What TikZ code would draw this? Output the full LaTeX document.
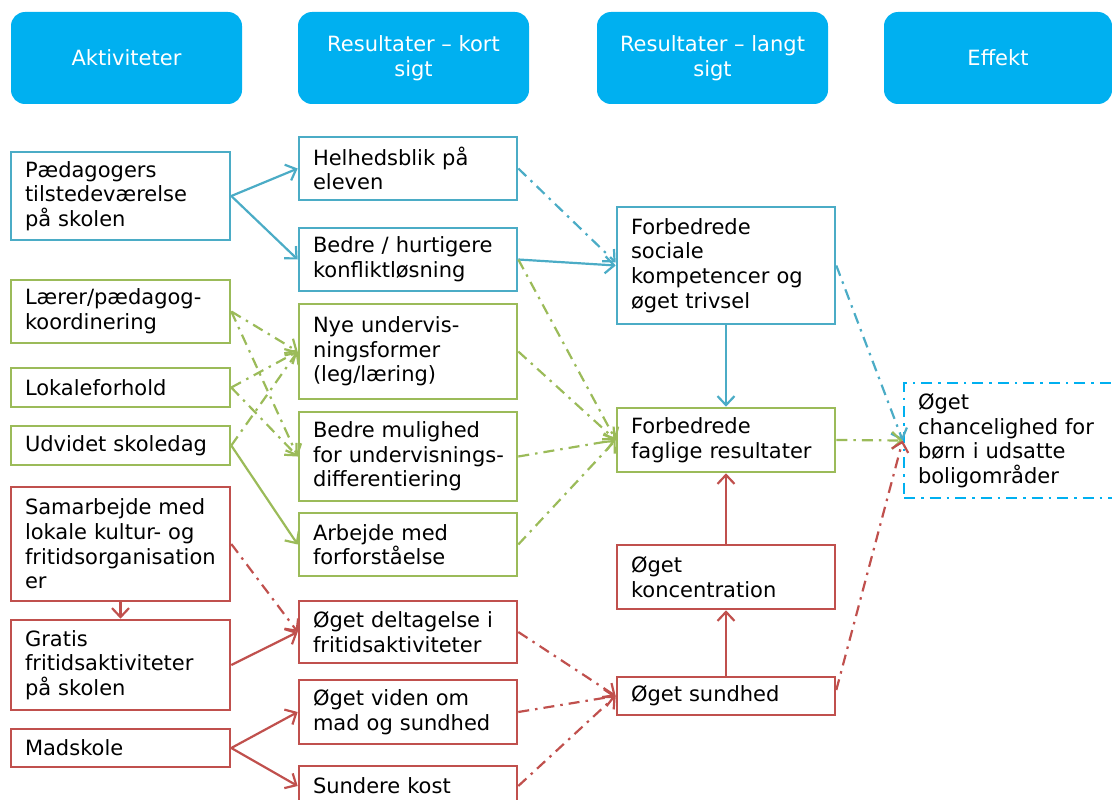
\documentclass[tikz,border=0pt]{standalone}
\usepackage{fontspec}
\setmainfont{DejaVu Sans}
\usetikzlibrary{arrows.meta}
\definecolor{cblue}{HTML}{4BACC6}
\definecolor{cgreen}{HTML}{9BBB59}
\definecolor{cred}{HTML}{C0504D}
\definecolor{chead}{HTML}{00B0F0}
\begin{document}
\begin{tikzpicture}[x=1pt,y=-1pt,
  font=\fontsize{21}{24.6}\selectfont,
  box/.style={draw, line width=2.6pt, inner xsep=14pt, inner ysep=0pt, align=left, fill=white},
  colA/.style={box, text width=191pt, minimum width=219pt},
  colB/.style={box, text width=190pt, minimum width=218pt},
  head/.style={fill=chead, draw=none, rounded corners=14pt, minimum width=231pt, minimum height=92pt, text=white, align=center},
  conn/.style={line width=2.2pt, -{Straight Barb[length=9pt,width=17pt]}},
  dd/.style={dash pattern=on 11pt off 6pt on 2.5pt off 6pt},
]
\useasboundingbox (0,0) rectangle (1112,800);
\clip (0,0) rectangle (1112,800);

% headers
\node[head] (h1) at (126.5,58) {Aktiviteter};
\node[head] (h2) at (413.5,58) {Resultater -- kort\\sigt};
\node[head] (h3) at (712.5,58) {Resultater -- langt\\sigt};
\node[head, minimum width=228pt] (h4) at (998,58) {Effekt};

% column 1
\node[colA, draw=cblue, minimum height=88pt] (ped) at (120.5,196) {Pædagogers\\tilstedeværelse\\på skolen};
\node[colA, draw=cgreen, minimum height=63pt] (laer) at (120.5,311.5) {Lærer/pædagog-\\koordinering};
\node[colA, draw=cgreen, minimum height=39pt] (lok) at (120.5,387.5) {Lokaleforhold};
\node[colA, draw=cgreen, minimum height=39pt] (udv) at (120.5,445.5) {Udvidet skoledag};
\node[colA, draw=cred, minimum height=114pt] (sam) at (120.5,544) {Samarbejde med\\lokale kultur- og\\\mbox{fritidsorganisation}\\er};
\node[colA, draw=cred, minimum height=90pt] (gra) at (120.5,665) {Gratis\\fritidsaktiviteter\\på skolen};
\node[colA, draw=cred, minimum height=38pt] (mad) at (120.5,748) {Madskole};

% column 2
\node[colB, draw=cblue, minimum height=63pt] (hel) at (408,168.5) {Helhedsblik på\\eleven};
\node[colB, draw=cblue, minimum height=63pt] (bed) at (408,259.5) {Bedre / hurtigere\\konfliktløsning};
\node[colB, draw=cgreen, minimum height=95pt] (nye) at (408,351.5) {Nye undervis-\\ningsformer\\(leg/læring)};
\node[colB, draw=cgreen, minimum height=89pt] (mul) at (408,456.5) {Bedre mulighed\\\mbox{for undervisnings-}\\differentiering};
\node[colB, draw=cgreen, minimum height=63pt] (arb) at (408,544.5) {Arbejde med\\forforståelse};
\node[colB, draw=cred, minimum height=62pt] (del) at (408,632) {Øget deltagelse i\\fritidsaktiviteter};
\node[colB, draw=cred, minimum height=64pt] (vid) at (408,712) {Øget viden om\\mad og sundhed};
\node[colB, draw=cred, minimum height=40pt] (kost) at (408,786) {Sundere kost};

% column 3
\node[colB, draw=cblue, minimum height=117pt] (soc) at (726,265.5) {Forbedrede\\sociale\\kompetencer og\\øget trivsel};
\node[colB, draw=cgreen, minimum height=64pt] (fag) at (726,440) {Forbedrede\\faglige resultater};
\node[colB, draw=cred, minimum height=64pt] (kon) at (726,577) {Øget\\koncentration};
\node[colB, draw=cred, minimum height=38pt] (sun) at (726,696) {Øget sundhed};

% effect
\node[box, draw=chead, dd, text width=260pt, minimum width=288pt, minimum height=115pt] (eff) at (1048,440.5) {Øget\\chancelighed for\\børn i udsatte\\boligområder};

% blue connectors
\draw[conn, cblue] (ped.east) -- (hel.west);
\draw[conn, cblue] (ped.east) -- (bed.west);
\draw[conn, cblue] (bed.east) -- (soc.west);
\draw[conn, cblue, dd] (hel.east) -- ([yshift=3pt]soc.west);
\draw[conn, cblue] (soc.south) -- (fag.north);
\draw[conn, cblue, dd] (soc.east) -- (eff.west);

% green connectors
\draw[conn, cgreen, dd] (laer.east) -- (nye.west);
\draw[conn, cgreen, dd] (laer.east) -- (mul.west);
\draw[conn, cgreen, dd] (lok.east) -- (nye.west);
\draw[conn, cgreen, dd] (lok.east) -- (mul.west);
\draw[conn, cgreen, dd] (udv.east) -- (nye.west);
\draw[conn, cgreen] (udv.east) -- (arb.west);
\draw[conn, cgreen, dd] (bed.east) -- (fag.west);
\draw[conn, cgreen, dd] (nye.east) -- (fag.west);
\draw[conn, cgreen, dd] (mul.east) -- (fag.west);
\draw[conn, cgreen, dd] (arb.east) -- (fag.west);
\draw[conn, cgreen, dd] (fag.east) -- (eff.west);

% red connectors
\draw[conn, cred] (sam.south) -- (gra.north);
\draw[conn, cred, dd] (sam.east) -- (del.west);
\draw[conn, cred] (gra.east) -- (del.west);
\draw[conn, cred] (mad.east) -- (vid.west);
\draw[conn, cred] (mad.east) -- (kost.west);
\draw[conn, cred, dd] (del.east) -- (sun.west);
\draw[conn, cred, dd] (vid.east) -- (sun.west);
\draw[conn, cred, dd] (kost.east) -- (sun.west);
\draw[conn, cred] (sun.north) -- (kon.south);
\draw[conn, cred] (kon.north) -- (fag.south);
\draw[conn, cred, dd] ([yshift=6pt]sun.east) -- (eff.west);
\end{tikzpicture}
\end{document}
